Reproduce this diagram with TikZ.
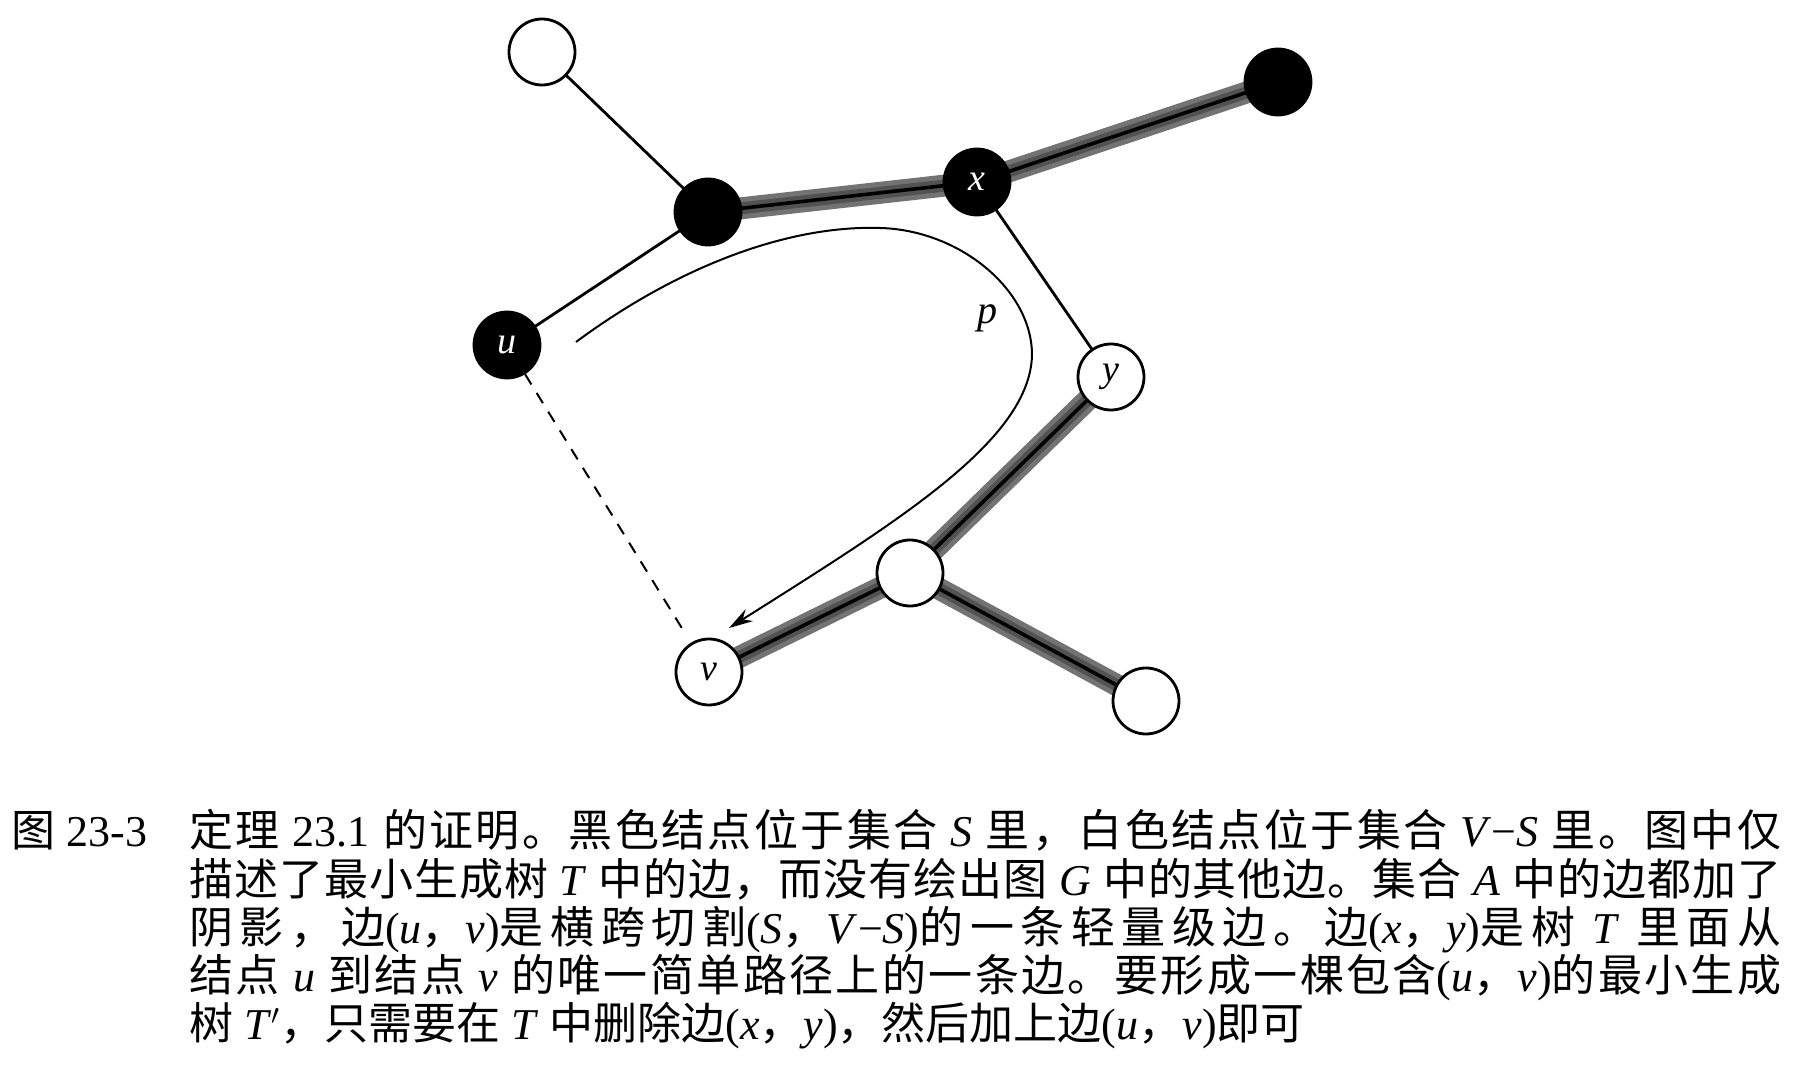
\documentclass[tikz,border=0pt]{standalone}
\usepackage{fontspec}
\setmainfont{Liberation Serif}
\newfontfamily\cjk{Noto Sans CJK SC}
\usetikzlibrary{arrows.meta,backgrounds}
\newXeTeXintercharclass\CJKcls
\count255="3000
\loop\ifnum\count255<"A000 \XeTeXcharclass\count255=\CJKcls \advance\count255 by 1 \repeat
\XeTeXcharclass"FF0C=\CJKcls
\XeTeXinterchartoks\CJKcls\CJKcls={\hskip0pt plus 3pt\relax}
\XeTeXinterchartokenstate=1
\definecolor{bandout}{gray}{0.45}
\definecolor{bandin}{gray}{0.32}
\begin{document}
\begin{tikzpicture}[x=0.5pt,y=-0.5pt,
  vtx/.style={circle,draw=black,line width=1.4pt,minimum size=33pt,inner sep=0pt,
    font=\fontsize{19}{19}\selectfont\itshape},
  blk/.style={vtx,fill=black,text=white},
  wht/.style={vtx,fill=white},
  thinedge/.style={line width=1.4pt},
  bandouter/.style={line width=11pt,draw=bandout},
  bandinner/.style={line width=6pt,draw=bandin},
  coreedge/.style={line width=1.8pt,draw=black},
  capt/.style={anchor=base west,inner sep=0pt,font=\fontsize{22}{26}\selectfont},
]
\useasboundingbox (0,0) rectangle (1796,1090);
% vertices
\node[wht] (tl) at (542,52) {};
\node[blk] (a) at (708,212) {};
\node[blk] (x) at (977,182) {x};
\node[blk] (tr) at (1278,82) {};
\node[blk] (u) at (507,345) {u};
\node[wht] (y) at (1111,377) {y};
\node[wht] (w) at (910,573) {};
\node[wht] (v) at (709,672) {v};
\node[wht] (br) at (1146,701) {};
% edges
\begin{scope}[on background layer]
  \foreach \s/\t in {a/x,x/tr,y/w,w/v,w/br}{
    \draw[bandouter] (\s.center) -- (\t.center);
  }
  \foreach \s/\t in {a/x,x/tr,y/w,w/v,w/br}{
    \draw[bandinner] (\s.center) -- (\t.center);
    \draw[coreedge] (\s.center) -- (\t.center);
  }
  \foreach \s/\t in {tl/a,a/u,x/y}{
    \draw[thinedge] (\s.center) -- (\t.center);
  }
\end{scope}
\draw[dash pattern=on 6pt off 5pt,line width=1pt,shorten >=8pt] (u) -- (v);
% path p
\coordinate (pstart) at (576,342);
\coordinate (pend) at (729,628);
\draw[line width=1pt,-{Stealth[length=12pt,width=7pt]}] (pstart)
  .. controls (680,265) and (790,225) .. (880,228)
  .. controls (960,230) and (1032,290) .. (1032,355)
  .. controls (1030,440) and (900,520) .. (pend);
\node[font=\fontsize{20}{20}\selectfont\itshape] (plab) at (987,318) {p};
% caption
\node[capt] (fig) at (11,847) {{\cjk 图} 23-3};
\node[capt] (l1) at (189,847) {\makebox[796pt][s]{{\cjk 定理} 23.1 {\cjk 的证明。黑色结点位于集合} \textit{S} {\cjk 里，白色结点位于集合} \textit{V}−\textit{S} {\cjk 里。图中仅}}};
\node[capt] (l2) at (189,896) {\makebox[796pt][s]{{\cjk 描述了最小生成树} \textit{T} {\cjk 中的边，而没有绘出图} \textit{G} {\cjk 中的其他边。集合} \textit{A} {\cjk 中的边都加了}}};
\node[capt] (l3) at (189,944) {\makebox[796pt][s]{{\cjk 阴影，边}(\textit{u}{\cjk ，}\textit{v}){\cjk 是横跨切割}(\textit{S}{\cjk ，}\textit{V}−\textit{S}){\cjk 的一条轻量级边。边}(\textit{x}{\cjk ，}\textit{y}){\cjk 是树} \textit{T} {\cjk 里面从}}};
\node[capt] (l4) at (189,992) {\makebox[796pt][s]{{\cjk 结点} \textit{u} {\cjk 到结点} \textit{v} {\cjk 的唯一简单路径上的一条边。要形成一棵包含}(\textit{u}{\cjk ，}\textit{v}){\cjk 的最小生成}}};
\node[capt] (l5) at (189,1040) {{\cjk 树} \textit{T}$'${\cjk ，只需要在} \textit{T} {\cjk 中删除边}(\textit{x}{\cjk ，}\textit{y}){\cjk ，然后加上边}(\textit{u}{\cjk ，}\textit{v}){\cjk 即可}};
\end{tikzpicture}
\end{document}
